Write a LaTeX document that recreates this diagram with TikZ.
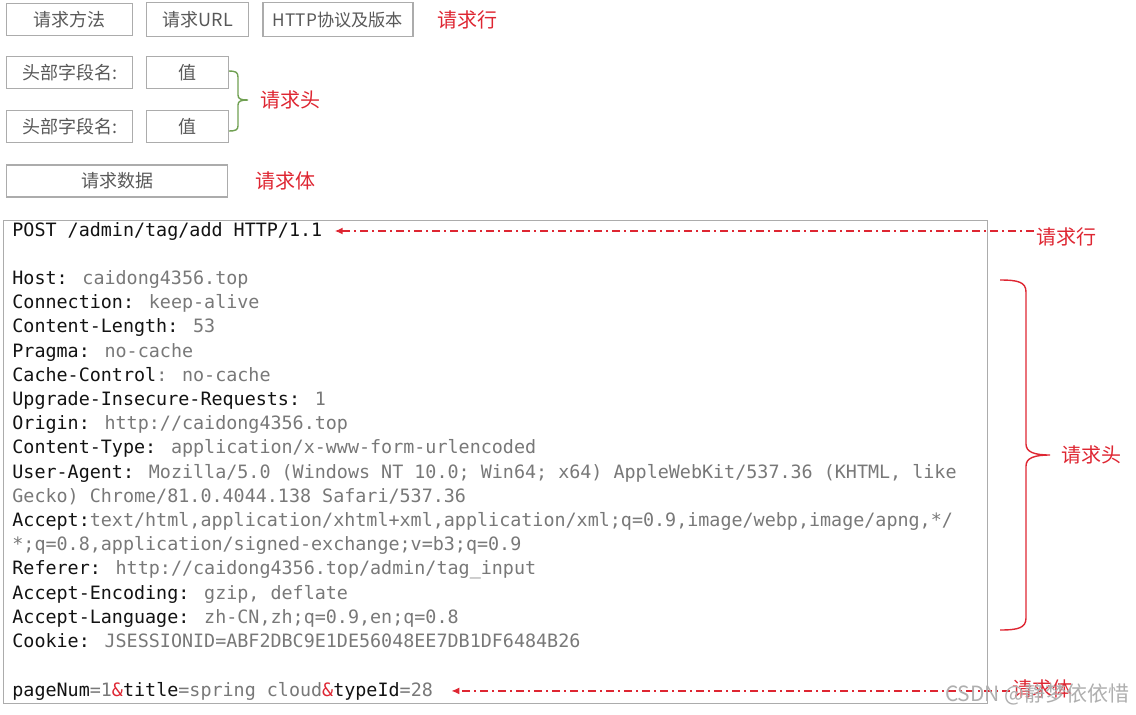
\documentclass[tikz,border=0pt]{standalone}
\usepackage{fontspec}
\usepackage{tikz}
\usetikzlibrary{arrows.meta, positioning}

\newfontfamily\cjk{Noto Sans CJK SC}
\newfontfamily\codefont{DejaVu Sans Mono}

\definecolor{labelred}{RGB}{222,38,50}
\definecolor{bracegreen}{RGB}{112,160,82}
\definecolor{boxgray}{RGB}{172,172,172}
\definecolor{textgray}{RGB}{88,88,88}
\definecolor{valgray}{RGB}{120,120,120}
\definecolor{keyblack}{RGB}{18,18,18}
\definecolor{markgray}{RGB}{175,175,175}

% header key + value
\newcommand{\hk}[2]{{\color{keyblack}#1}{\color{valgray}#2}}

\begin{document}
\begin{tikzpicture}[
        x=0.5pt, y=-0.5pt,
        fieldbox/.style={draw=boxgray, line width=0.6pt, minimum height=16pt, inner sep=0pt, text=textgray, font=\cjk\fontsize{9}{9}\selectfont},
        partlabel/.style={text=labelred, inner sep=1pt, font=\cjk\fontsize{10}{10}\selectfont},
        codeline/.style={anchor=base west, inner sep=1pt, font=\codefont\fontsize{9.19}{12}\selectfont},
        markarrow/.style={draw=labelred, line width=0.9pt, dash pattern=on 4pt off 2pt on 1pt off 2pt, -{Latex[length=4pt,width=3.5pt]}},
        bracepath/.style={line width=0.7pt}
    ]
    \useasboundingbox (0,0) rectangle (1136,714);

    % --- Request line ---
    \node[fieldbox, minimum width=63pt, anchor=north west] (method) at (6,3) {请求方法};
    \node[fieldbox, minimum width=51pt, minimum height=17pt, right=6.5pt of method] (url) {请求URL};
    \node[fieldbox, minimum width=75pt, minimum height=17pt, font=\cjk\fontsize{8.6}{8.6}\selectfont, right=6.5pt of url] (version) {HTTP协议及版本};
    \node[partlabel, right=10.5pt of version] (lbl_line) {请求行};

    % --- Request headers ---
    \node[fieldbox, minimum width=63pt, anchor=north west] (name1) at (6,56) {头部字段名:};
    \node[fieldbox, minimum width=41pt, right=6.5pt of name1] (value1) {值};
    \node[fieldbox, minimum width=63pt, below=10.5pt of name1] (name2) {头部字段名:};
    \node[fieldbox, minimum width=41pt, right=6.5pt of name2] (value2) {值};

    \draw[bracepath, draw=bracegreen] (229,71) .. controls (235,71) and (238,72) .. (238,77) -- (238,95)
        .. controls (238,99) and (241,100) .. (248,100) .. controls (241,100) and (238,101) .. (238,105)
        -- (238,126) .. controls (238,130) and (235,131) .. (229,131);
    \coordinate (tip_head) at (248,100);
    \node[partlabel, right=5pt of tip_head] (lbl_head) {请求头};

    % --- Request body ---
    \node[fieldbox, minimum width=110.5pt, below right=10.5pt and 0pt of name2.south west] (data) {请求数据};
    \node[partlabel, right=12.5pt of data] (lbl_body) {请求体};

    % --- Example request ---
    \node[draw=boxgray, line width=0.6pt, inner sep=0pt, minimum width=492pt, minimum height=241.5pt, anchor=north west] (reqbox) at (3,220) {};

    \node[codeline] (reqline) at (10,236) {\hk{POST /admin/tag/add HTTP/1.1}{}};
    \foreach \codetxt [count=\i from 2] in {
        {\hk{Host: }{caidong4356.top}},
        {\hk{Connection: }{keep-alive}},
        {\hk{Content-Length: }{53}},
        {\hk{Pragma: }{no-cache}},
        {\hk{Cache-Control}{: no-cache}},
        {\hk{Upgrade-Insecure-Requests: }{1}},
        {\hk{Origin: }{http://caidong4356.top}},
        {\hk{Content-Type: }{application/x-www-form-urlencoded}},
        {\hk{User-Agent: }{Mozilla/5.0 (Windows NT 10.0; Win64; x64) AppleWebKit/537.36 (KHTML, like}},
        {\hk{}{Gecko) Chrome/81.0.4044.138 Safari/537.36}},
        {\hk{Accept:}{text/html,application/xhtml+xml,application/xml;q=0.9,image/webp,image/apng,*/}},
        {\hk{}{*;q=0.8,application/signed-exchange;v=b3;q=0.9}},
        {\hk{Referer: }{http://caidong4356.top/admin/tag\_input}},
        {\hk{Accept-Encoding: }{gzip, deflate}},
        {\hk{Accept-Language: }{zh-CN,zh;q=0.9,en;q=0.8}},
        {\hk{Cookie: }{JSESSIONID=ABF2DBC9E1DE56048EE7DB1DF6484B26}}}
        \node[codeline] (hdr\i) at (10,{236+24.21*\i}) {\codetxt};
    \node[codeline] (reqbody) at (10,{236+24.21*19}) {\hk{pageNum}{=1}{\color{labelred}\&}\hk{title}{=spring cloud}{\color{labelred}\&}\hk{typeId}{=28}};

    % --- Markers on the right ---
    \node[partlabel, anchor=west] (lbl_line2) at (1034,237) {请求行};
    \draw[markarrow, shorten >=5pt] (lbl_line2.west |- reqline.east) -- (reqline.east);

    \draw[bracepath, draw=labelred] (1000,280) .. controls (1018,280) and (1026,282) .. (1026,292) -- (1026,444)
        .. controls (1026,452) and (1034,455) .. (1050,455) .. controls (1034,455) and (1026,458) .. (1026,466)
        -- (1026,618) .. controls (1026,628) and (1018,630) .. (1000,630);
    \coordinate (tip_head2) at (1050,455);
    \node[partlabel, right=4.5pt of tip_head2] (lbl_head2) {请求头};

    \node[partlabel, anchor=west] (lbl_body2) at (1010,689) {请求体};
    \draw[markarrow, shorten >=8pt] (lbl_body2.west |- reqbody.east) -- (reqbody.east);

    \node[anchor=east, inner sep=0pt, text=markgray, font=\cjk\fontsize{10.5}{10.5}\selectfont] (mark) at (1130,694) {CSDN @静梦依依惜};

\end{tikzpicture}
\end{document}
